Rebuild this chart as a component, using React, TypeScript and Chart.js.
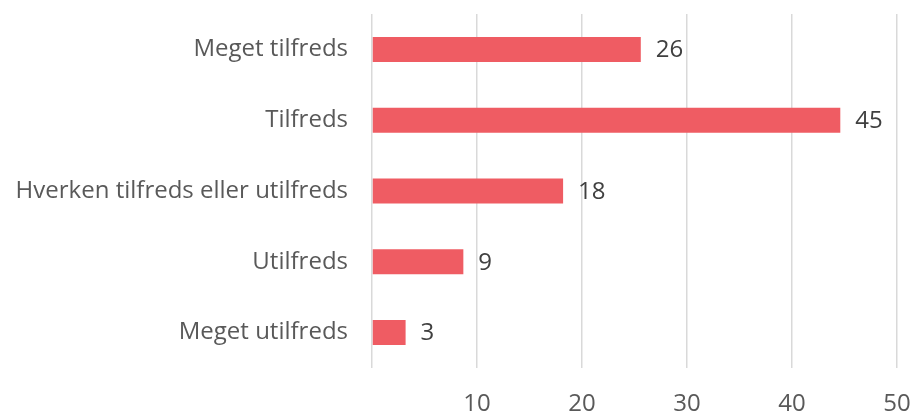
import React, { useEffect, useRef } from "react";
import { Chart, registerables } from "chart.js";

Chart.register(...registerables);

const categories = [
  "Meget tilfreds",
  "Tilfreds",
  "Hverken tilfreds eller utilfreds",
  "Utilfreds",
  "Meget utilfreds",
];
const values = [25.6, 44.6, 18.2, 8.7, 3.2];
const xTicks = [0, 10, 20, 30, 40, 50];

const FONT = "'Open Sans', 'Noto Sans', sans-serif";

const valueLabels = {
  id: "valueLabels",
  afterDatasetsDraw(chart: any) {
    const ctx = chart.ctx;
    const meta = chart.getDatasetMeta(0);
    ctx.save();
    ctx.font = `24px ${FONT}`;
    ctx.fillStyle = "#404040";
    ctx.textAlign = "left";
    ctx.textBaseline = "middle";
    meta.data.forEach((bar: any, i: number) => {
      const v = chart.data.datasets[0].data[i] as number;
      ctx.fillText(String(Math.round(v)), bar.x + 15, bar.y + 1);
    });
    ctx.restore();
  },
};

const zeroPad = (scale: any) => {
  scale.paddingTop = 0;
  scale.paddingBottom = 0;
  scale.paddingLeft = 0;
  scale.paddingRight = 0;
};

export default function App() {
  const ref = useRef<HTMLCanvasElement | null>(null);
  useEffect(() => {
    if (!ref.current) return;
    const chart = new Chart(ref.current, {
      type: "bar",
      data: {
        labels: categories,
        datasets: [
          {
            data: values,
            backgroundColor: "#EF5C63",
            borderWidth: 0,
            barPercentage: 0.353,
            categoryPercentage: 1,
          },
        ],
      },
      options: {
        indexAxis: "y",
        animation: false,
        responsive: true,
        maintainAspectRatio: false,
        layout: { padding: { top: 14, right: 16, left: 0, bottom: 0 } },
        plugins: {
          legend: { display: false },
          tooltip: { enabled: false },
        },
        scales: {
          x: {
            min: xTicks[0],
            max: xTicks[xTicks.length - 1],
            afterBuildTicks: (scale: any) => {
              scale.ticks = xTicks.map((v) => ({ value: v }));
            },
            afterFit: (scale: any) => {
              scale.height = 46;
              zeroPad(scale);
            },
            grid: {
              color: "#d9d9d9",
              lineWidth: 1.5,
              drawTicks: false,
            },
            border: { display: false },
            ticks: {
              padding: 22,
              color: "#595959",
              font: { family: FONT, size: 24 },
              callback: (v: any) => (v === 0 ? "" : String(v)),
            },
          },
          y: {
            afterFit: (scale: any) => {
              scale.width = 372;
              zeroPad(scale);
            },
            grid: { display: false, drawTicks: false },
            border: { display: false },
            ticks: {
              padding: 24,
              color: "#595959",
              font: { family: FONT, size: 24 },
            },
          },
        },
      },
      plugins: [valueLabels],
    });
    return () => chart.destroy();
  }, []);
  return (
    <div style={{ position: "fixed", left: 0, top: 0, width: 913, height: 414 }}>
      <canvas ref={ref} />
    </div>
  );
}
